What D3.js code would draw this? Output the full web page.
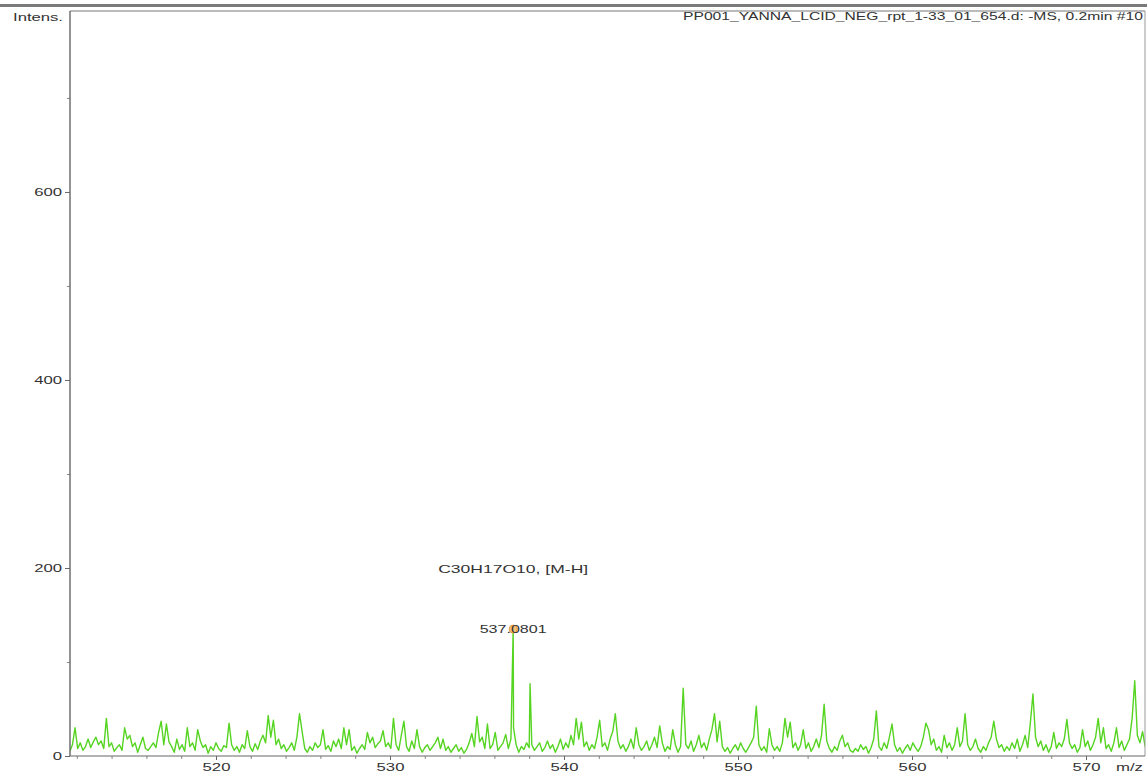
<!DOCTYPE html>
<html>
<head>
<meta charset="utf-8">
<script src="https://cdn.jsdelivr.net/npm/d3@7"></script>
<style>
  body { margin: 0; background: #fff; }
  svg text { font-family: "Liberation Sans", Arial, sans-serif; fill: #333; }
</style>
</head>
<body>
<div id="chart"></div>
<script>
// spectrum data
var title = "PP001_YANNA_LCID_NEG_rpt_1-33_01_654.d: -MS, 0.2min #10";
var noiseStart = 511.6;
var noiseStep = 0.15;
var noiseInt = [
  5,12,30,8,14,6,10,18,9,15,20,12,16,8,40,10,14,5,9,12,
  6,30,18,22,10,14,4,12,20,8,6,10,14,9,25,37,12,34,15,10,
  4,18,7,12,5,30,10,14,6,28,16,9,12,3,10,6,14,8,5,11,
  9,35,12,6,10,4,12,8,27,10,5,13,7,16,22,14,43,20,38,12,
  18,8,12,5,9,14,6,20,45,26,8,4,10,6,14,9,12,28,7,11,
  5,16,10,18,8,30,12,28,6,10,3,8,12,7,25,14,20,9,13,16,
  27,10,14,8,40,12,6,22,37,10,5,16,8,28,10,4,9,12,6,10,
  14,20,8,18,6,10,4,8,12,5,9,3,7,14,24,10,42,15,20,8,
  34,8,12,25,6,10,14,23,8,18,30,12,4,10,7,14,9,12,6,10,
  14,5,9,16,8,12,4,10,18,7,14,9,22,12,40,18,36,10,15,6,
  12,8,20,38,10,14,6,18,26,45,16,8,12,5,10,18,8,30,12,6,
  10,16,6,12,20,9,32,14,5,10,7,28,12,4,10,72,12,8,16,5,
  12,22,9,14,6,18,28,45,15,37,10,5,9,3,8,12,6,14,8,4,
  9,14,20,53,12,6,10,4,29,12,6,10,5,14,40,20,36,9,14,6,
  12,28,8,14,5,10,18,9,22,55,16,8,4,10,6,16,22,10,14,6,
  4,8,5,12,7,10,3,9,18,48,10,6,14,8,20,34,12,5,9,3,
  8,12,6,14,9,5,10,20,35,28,12,18,6,10,4,22,9,14,6,12,
  30,10,16,45,12,6,10,18,8,4,10,6,14,20,37,18,9,12,5,10,
  6,14,8,18,5,12,22,9,35,66,20,10,16,6,12,4,10,25,8,14,
  10,18,39,14,8,12,4,9,28,10,16,6,12,20,40,14,30,8,12,5,
  14,30,9,16,6,12,18,40,80,22,14,26,10
];
// extra peaks off the sampling grid
var peakMz  = [537.0801, 538.05];
var peakInt = [135, 77];
var yTicks = [0, 200, 400, 600];
var yMinor = [100, 300, 500, 700];
var xTicks = [520, 530, 540, 550, 560, 570];
var xMinor = [512, 514, 516, 518, 522, 524, 526, 528, 532, 534, 536, 538,
              542, 544, 546, 548, 552, 554, 556, 558, 562, 564, 566, 568, 572];
var labelMz = 537.0801;
var labelText = "537.0801";
var formula = "C30H17O10, [M-H]";

var width = 1147, height = 773;
var mLeft = 70, mRight = 1145, mTop = 11, mBottom = 756;

var svg = d3.select("#chart").append("svg")
    .attr("width", width)
    .attr("height", height);

var x = d3.scaleLinear().domain([511.61, 573.39]).range([mLeft, mRight]);
var y = d3.scaleLinear().domain([0, 792.5]).range([mBottom, mTop]);

// build points
var pts = [];
for (var i = 0; i < noiseInt.length; i++) {
  pts.push({mz: noiseStart + i * noiseStep, v: noiseInt[i]});
}
for (var j = 0; j < peakMz.length; j++) {
  pts.push({mz: peakMz[j], v: peakInt[j]});
}
pts.sort(function(a, b) { return a.mz - b.mz; });

// stretch helper, text in the source looks wider than Arial
function stretch(sel, k) {
  sel.each(function() {
    var w = this.getComputedTextLength();
    d3.select(this).attr("textLength", w * k).attr("lengthAdjust", "spacingAndGlyphs");
  });
}

// top strip
svg.append("rect").attr("x", 0).attr("y", 4).attr("width", width).attr("height", 3).attr("fill", "#7a7a7a");

svg.append("defs").append("clipPath").attr("id", "clip")
  .append("rect").attr("x", mLeft).attr("y", mTop).attr("width", mRight - mLeft).attr("height", mBottom - mTop + 1);

// spectrum
var line = d3.line()
  .x(function(d) { return x(d.mz); })
  .y(function(d) { return y(d.v); });

svg.append("path")
  .datum(pts)
  .attr("clip-path", "url(#clip)")
  .attr("fill", "none")
  .attr("stroke", "#55d422")
  .attr("stroke-width", 1.4)
  .attr("stroke-linejoin", "round")
  .attr("d", line);

// frame
svg.append("line").attr("x1", mLeft).attr("x2", mRight).attr("y1", mTop).attr("y2", mTop).attr("stroke", "#777");
svg.append("line").attr("x1", mRight).attr("x2", mRight).attr("y1", mTop).attr("y2", mBottom).attr("stroke", "#999");

// y axis
var yAx = svg.append("g").attr("transform", "translate(" + mLeft + ",0)")
  .call(d3.axisLeft(y).tickValues(yTicks).tickSize(5).tickPadding(3));
yAx.select(".domain").remove();
yAx.selectAll("line").attr("stroke", "#666");
yAx.selectAll("text").style("font-size", "11.5px").attr("font-family", null);
var yMin = svg.append("g").attr("transform", "translate(" + mLeft + ",0)")
  .call(d3.axisLeft(y).tickValues(yMinor).tickSize(3).tickFormat(""));
yMin.select(".domain").remove();
yMin.selectAll("line").attr("stroke", "#888");

// x axis
var xAx = svg.append("g").attr("transform", "translate(0," + mBottom + ")")
  .call(d3.axisBottom(x).tickValues(xTicks).tickSize(4).tickPadding(3));
xAx.select(".domain").remove();
xAx.selectAll("line").attr("stroke", "#666");
xAx.selectAll("text").style("font-size", "11.5px").attr("font-family", null);
var xMin = svg.append("g").attr("transform", "translate(0," + mBottom + ")")
  .call(d3.axisBottom(x).tickValues(xMinor).tickSize(3).tickFormat(""));
xMin.select(".domain").remove();
xMin.selectAll("line").attr("stroke", "#888");

svg.selectAll(".tick text").attr("fill", "#333");
svg.append("line").attr("x1", mLeft).attr("x2", mLeft).attr("y1", mTop).attr("y2", mBottom).attr("stroke", "#666").attr("stroke-width", 1.4);
svg.append("line").attr("x1", mLeft).attr("x2", mRight).attr("y1", mBottom).attr("y2", mBottom).attr("stroke", "#666").attr("stroke-width", 1.2);

stretch(yAx.selectAll("text"), 1.45);
stretch(xAx.selectAll("text"), 1.45);

// labels
svg.append("text").attr("x", 63).attr("y", 21).attr("text-anchor", "end")
  .style("font-size", "11px").text("Intens.")
  .attr("textLength", 50).attr("lengthAdjust", "spacingAndGlyphs");

svg.append("text").attr("x", 1143).attr("y", 771).attr("text-anchor", "end")
  .style("font-size", "11.5px").text("m/z")
  .attr("textLength", 27).attr("lengthAdjust", "spacingAndGlyphs");

svg.append("text").attr("x", 1143).attr("y", 20).attr("text-anchor", "end")
  .style("font-size", "11px").text(title)
  .attr("textLength", 460).attr("lengthAdjust", "spacingAndGlyphs");

// peak annotation
var px = x(labelMz), py = y(peakInt[0]);
svg.append("circle").attr("cx", px).attr("cy", py).attr("r", 4)
  .attr("fill", "#f7c27c").attr("stroke", "#e99a38").attr("stroke-width", 1);
svg.append("text").attr("x", px).attr("y", py + 4).attr("text-anchor", "middle")
  .style("font-size", "11px").text(labelText)
  .attr("textLength", 67).attr("lengthAdjust", "spacingAndGlyphs");
svg.append("text").attr("x", px).attr("y", y(200) + 5).attr("text-anchor", "middle")
  .style("font-size", "11px").text(formula)
  .attr("textLength", 150).attr("lengthAdjust", "spacingAndGlyphs");
</script>
</body>
</html>
